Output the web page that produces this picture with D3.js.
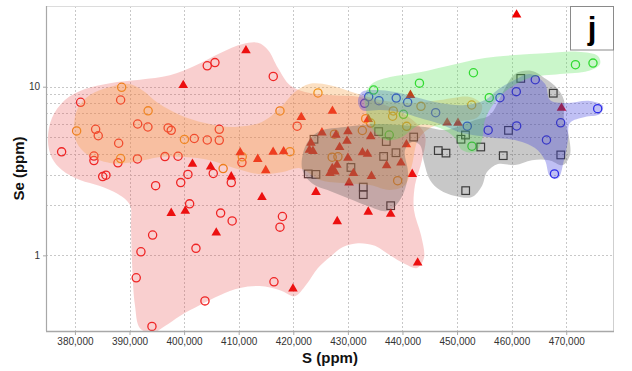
<!DOCTYPE html>
<html>
<head>
<meta charset="utf-8">
<script src="https://cdn.jsdelivr.net/npm/d3@7"></script>
<style>
  body { margin: 0; background: #fff; }
  svg { display: block; font-family: "Liberation Sans", Arial, sans-serif; }
</style>
</head>
<body>
<svg id="chart" width="632" height="371"></svg>
<script>
// ---- axis ticks ----
const xTicks = [380000, 390000, 400000, 410000, 420000, 430000, 440000, 450000, 460000, 470000];
const yLabelTicks = [1, 10];
const yGridTicks = [1, 2, 3, 4, 5, 6, 7, 8, 9, 10];

// ---- samples: [S ppm, Se ppm] ----
const redCircles = [
  [377560,4.11],[381040,8.08],[383790,5.59],[384270,5.12],[383480,3.88],[383480,3.65],[385080,2.93],[385680,2.99],
  [388010,4.62],[387880,3.54],[388370,8.34],[391490,6.01],[391450,3.73],[393370,5.77],[394780,2.59],[396490,3.85],
  [397070,5.70],[397640,5.51],[398890,3.87],[399380,2.70],[400700,3.02],[401860,4.93],[404240,13.3],[405650,13.9],
  [404240,4.83],[405340,3.06],[406440,5.59],[406440,4.81],[408640,2.70],[410590,3.55],[416330,11.5],[420710,5.83],
  [401010,2.02],[406690,1.78],[408800,1.60],[394230,1.32],[392090,1.05],[402170,1.10],[418010,1.70],[417560,1.47],
  [391230,0.736],[416460,0.697],[403820,0.537],[394110,0.379]
];
const redTriangles = [
  [399840,10.2],[411330,16.4],[401530,3.48],[404860,3.35],[408640,2.93],[410280,4.07],[413490,3.72],[414950,3.19],
  [416310,4.10],[418230,4.13],[421460,6.59],[397640,1.78],[400210,1.83],[405890,1.36],[414260,2.21],[419940,0.634],
  [424150,2.37],[460900,26.7],[441460,8.91],[469130,7.47],[427170,7.18],[433730,6.41],[448190,6.11],[450170,6.09],
  [425250,5.34],[430010,5.42],[427820,5.17],[434190,5.07],[429830,4.76],[428490,4.37],[423240,4.64],[422960,4.21],
  [423600,4.15],[440730,4.54],[432670,4.07],[433590,3.99],[430010,3.78],[437100,3.41],[439720,3.54],[428000,3.43],
  [427140,3.28],[426720,3.07],[427630,3.13],[431020,3.07],[434320,2.95],[441790,3.03],[430220,2.70],[433730,1.81],
  [437840,1.76],[428050,1.59],[442780,0.904]
];
const orangeCircles = [
  [380310,5.47],[388560,9.92],[388370,3.75],[393410,7.19],[400060,4.87],[407150,3.27],[410650,3.84],[417560,7.18],
  [419390,4.12],[424520,9.18],[438310,7.18],[438200,6.68],[433260,6.46],[434170,6.09],[443390,7.65],[452680,7.79],
  [440770,5.82],[432650,5.50],[427540,5.23],[427120,3.82],[428180,3.84],[439120,2.77]
];
const blueCircles = [
  [433810,8.72],[433070,7.97],[435690,8.26],[438860,8.56],[440950,8.08],[446080,7.01],[451870,5.83],[455700,5.52],
  [457860,8.60],[460850,9.35],[464330,11.0],[460920,5.85],[468980,6.11],[475760,7.41],[466380,4.83],[467840,3.04]
];
const greenCircles = [
  [434720,9.56],[443110,10.5],[453000,12.1],[455900,8.61],[471690,13.5],[474900,13.8],[440180,6.86],[437580,5.17],
  [452730,4.44]
];
const greySquares = [
  [461670,11.2],[467620,9.15],[459420,5.51],[458460,3.90],[469000,3.94],[451540,5.17],[450720,4.88],[454340,4.39],
  [446560,4.18],[447970,4.04],[451580,2.42],[442050,5.03],[435640,5.42],[437030,4.73],[423790,4.88],[436550,3.86],
  [438810,4.06],[430560,3.32],[422740,3.04],[424150,3.02],[432820,2.54],[432820,2.29],[437840,1.97]
];

// ---- group envelopes: outline vertices [S ppm, Se ppm] ----
const pinkField = [
  [375050,4.83],[375790,6.52],[378170,8.34],[381830,9.69],[386410,10.5],[391910,11.0],[397400,11.7],[401980,13.3],
  [406560,15.8],[410780,17.9],[413530,18.2],[415360,16.5],[417190,12.9],[419390,10.2],[422140,9.30],[426720,8.93],
  [432210,8.69],[436790,7.79],[441370,6.52],[444120,5.17],[443570,3.67],[442290,2.61],[442100,1.86],[443390,1.32],
  [443940,0.964],[442650,0.841],[440460,0.888],[437710,1.00],[434960,1.14],[431850,1.18],[429100,1.12],[426720,0.977],
  [424520,0.841],[422320,0.666],[420300,0.573],[417560,0.622],[413890,0.657],[410230,0.640],[406560,0.581],[402900,0.507],
  [399240,0.437],[396490,0.381],[394110,0.346],[391910,0.370],[390990,0.507],[390440,0.938],[390260,1.51],[390080,1.99],
  [387880,2.31],[384580,2.58],[380920,2.80],[377620,3.21],[375790,3.78]
];
const orangeField = [
  [379820,5.69],[380550,7.47],[382750,8.93],[386410,9.96],[389710,10.4],[392270,9.56],[395210,8.00],[399240,6.80],
  [403820,6.09],[409310,5.77],[414260,6.18],[417560,7.47],[420300,9.30],[423050,10.4],[426720,10.2],[431300,9.18],
  [435880,8.34],[441370,8.00],[446870,8.34],[452360,8.69],[454560,7.79],[453830,6.61],[449620,6.18],[445040,5.69],
  [442840,4.83],[441740,3.43],[440460,2.61],[437710,2.44],[434040,2.61],[429460,2.68],[424880,2.80],[421220,3.29],
  [418110,3.12],[413890,3.03],[409310,3.29],[404730,3.67],[400150,3.83],[395570,3.83],[390990,3.58],[386410,3.53],
  [382380,3.93],[380370,4.64]
];
const greyField = [
  [421590,3.29],[422500,4.64],[424880,5.46],[429460,5.77],[434960,6.01],[439540,5.93],[444120,5.77],[447780,5.54],
  [450530,5.85],[453280,6.35],[456030,6.80],[458410,9.30],[460610,11.9],[463720,12.4],[466290,11.1],[468300,9.82],
  [469580,8.34],[469580,6.52],[470500,5.03],[470680,3.93],[469400,3.43],[466840,3.67],[463720,3.67],[460610,3.43],
  [457490,3.48],[455480,3.12],[454560,2.58],[452730,2.22],[449620,2.25],[446870,2.44],[445040,2.80],[443940,3.58],
  [443200,4.51],[441740,4.70],[440460,4.21],[441010,2.99],[439540,2.13],[437160,1.83],[433680,1.96],[430380,2.16],
  [426720,2.41],[423420,2.68]
];
const blueField = [
  [431850,8.11],[432580,9.30],[434960,9.56],[438620,9.30],[442290,8.69],[446870,8.00],[451450,7.79],[455110,8.34],
  [457860,9.82],[460610,11.0],[463360,11.9],[466100,10.4],[467020,8.34],[469770,8.00],[474350,8.23],[476730,7.68],
  [476180,6.89],[473430,6.61],[470680,6.09],[470320,4.83],[469580,3.67],[468490,2.87],[467020,2.95],[466100,3.67],
  [464270,4.33],[460610,4.83],[456940,4.96],[454200,5.10],[450900,5.31],[446870,6.01],[443200,6.52],[439540,7.08],
  [435880,7.27],[432580,7.27]
];
const greenField = [
  [433130,8.93],[434410,10.4],[437710,11.4],[443200,12.2],[449620,13.6],[455110,14.8],[460610,15.4],[466100,15.8],
  [472150,16.1],[475810,15.2],[476180,13.6],[473980,12.4],[468850,11.9],[463360,11.3],[459690,9.82],[456940,8.11],
  [455110,6.35],[454560,4.83],[453280,4.10],[450900,4.21],[449620,4.96],[446870,5.69],[443200,5.93],[439540,4.96],
  [436790,4.83],[434410,5.69],[433310,7.27]
];

// ---- layout ----
const W = 632, H = 371;
const margin = { left: 46, top: 6, right: 18, bottom: 40 };
const iw = W - margin.left - margin.right;   // 568
const ih = H - margin.top - margin.bottom;   // 325

const svg = d3.select("#chart");
svg.append("rect").attr("width", W).attr("height", H).attr("fill", "#fff");

const x = d3.scaleLinear().domain([374700, 478750]).range([0, iw]);
const y = d3.scaleLog().domain([0.356, 30.1]).range([ih, 0]);

const g = svg.append("g").attr("transform", `translate(${margin.left},${margin.top})`);

g.append("clipPath").attr("id", "plotClip")
  .append("rect").attr("width", iw).attr("height", ih);

// grid
const grid = g.append("g").attr("stroke", "#c8c8c8").attr("stroke-width", 1).attr("stroke-dasharray", "2,2");
grid.selectAll("line.v").data(xTicks).join("line")
  .attr("x1", d => Math.round(x(d)) + 0.5).attr("x2", d => Math.round(x(d)) + 0.5)
  .attr("y1", 0).attr("y2", ih);
grid.selectAll("line.h").data(yGridTicks).join("line")
  .attr("y1", d => Math.round(y(d)) + 0.5).attr("y2", d => Math.round(y(d)) + 0.5)
  .attr("x1", 0).attr("x2", iw);

const plot = g.append("g").attr("clip-path", "url(#plotClip)");

// markers
const circleSeries = [
  { data: redCircles, color: "#f21c1c" },
  { data: orangeCircles, color: "#f0900c" },
  { data: blueCircles, color: "#2727ee" },
  { data: greenCircles, color: "#25d825" }
];
const marks = plot.append("g");
circleSeries.forEach(s => {
  marks.append("g").selectAll("circle").data(s.data).join("circle")
    .attr("cx", d => x(d[0])).attr("cy", d => y(d[1])).attr("r", 4.1)
    .attr("fill", "none").attr("stroke", s.color).attr("stroke-width", 1.3);
});
marks.append("g").selectAll("rect").data(greySquares).join("rect")
  .attr("x", d => x(d[0]) - 3.8).attr("y", d => y(d[1]) - 3.8)
  .attr("width", 7.6).attr("height", 7.6)
  .attr("fill", "none").attr("stroke", "#333").attr("stroke-width", 1.2);
const tri = d3.symbol().type(d3.symbolTriangle).size(40);
marks.append("g").selectAll("path").data(redTriangles).join("path")
  .attr("d", tri)
  .attr("transform", d => `translate(${x(d[0])},${y(d[1])})`)
  .attr("fill", "#ee0000");

// envelopes drawn over the markers
const outline = d3.line().x(d => x(d[0])).y(d => y(d[1])).curve(d3.curveCatmullRomClosed.alpha(0.5));
const fields = [
  { data: pinkField, color: "#e84040", op: 0.25 },
  { data: orangeField, color: "#f5a040", op: 0.32 },
  { data: greyField, color: "#555555", op: 0.32 },
  { data: blueField, color: "#3c3cdc", op: 0.32 },
  { data: greenField, color: "#50e050", op: 0.3 }
];
plot.append("g").selectAll("path").data(fields).join("path")
  .attr("d", d => outline(d.data))
  .attr("fill", d => d.color).attr("fill-opacity", d => d.op).attr("stroke", "none");

// frame
g.append("line").attr("x1", 0).attr("x2", iw).attr("y1", 0.5).attr("y2", 0.5).attr("stroke", "#dcdcdc");
g.append("line").attr("x1", iw - 0.5).attr("x2", iw - 0.5).attr("y1", 0).attr("y2", ih).attr("stroke", "#cfcfcf");
g.append("line").attr("x1", 0.5).attr("x2", 0.5).attr("y1", 0).attr("y2", ih).attr("stroke", "#a8a8a8").attr("stroke-width", 1.2);
g.append("line").attr("x1", 0).attr("x2", iw).attr("y1", ih + 0.5).attr("y2", ih + 0.5).attr("stroke", "#a8a8a8").attr("stroke-width", 1.5);

// x axis
const xAxis = g.append("g").attr("transform", `translate(0,${ih})`)
  .call(d3.axisBottom(x).tickValues(xTicks).tickFormat(d3.format(",")).tickSize(4).tickPadding(3));
xAxis.select(".domain").remove();
xAxis.selectAll(".tick line").attr("stroke", "#a8a8a8");
xAxis.selectAll(".tick text").attr("fill", "#333").attr("font-size", 10)
  .attr("font-family", "'Liberation Sans', Arial, sans-serif");

// y axis
const yAxis = g.append("g")
  .call(d3.axisLeft(y).tickValues(yLabelTicks).tickFormat(d3.format("d")).tickSize(3).tickPadding(3));
yAxis.select(".domain").remove();
yAxis.selectAll(".tick line").attr("stroke", "#a8a8a8");
yAxis.selectAll(".tick text").attr("fill", "#333").attr("font-size", 10)
  .attr("font-family", "'Liberation Sans', Arial, sans-serif");

// axis titles
svg.append("text").attr("x", margin.left + iw / 2).attr("y", 363)
  .attr("text-anchor", "middle").attr("font-size", 15).attr("font-weight", "bold").attr("fill", "#111")
  .text("S (ppm)");
svg.append("text").attr("transform", `translate(24,${margin.top + ih / 2}) rotate(-90)`)
  .attr("text-anchor", "middle").attr("font-size", 15).attr("font-weight", "bold").attr("fill", "#111")
  .text("Se (ppm)");

// panel letter
svg.append("rect").attr("x", 570.5).attr("y", 6.5).attr("width", 43).attr("height", 43.5)
  .attr("fill", "#fff").attr("stroke", "#8a8a8a").attr("stroke-width", 1);
svg.append("text").attr("x", 592).attr("y", 39).attr("text-anchor", "middle")
  .attr("font-size", 31).attr("font-weight", "bold").attr("fill", "#000").text("j");
</script>
</body>
</html>
